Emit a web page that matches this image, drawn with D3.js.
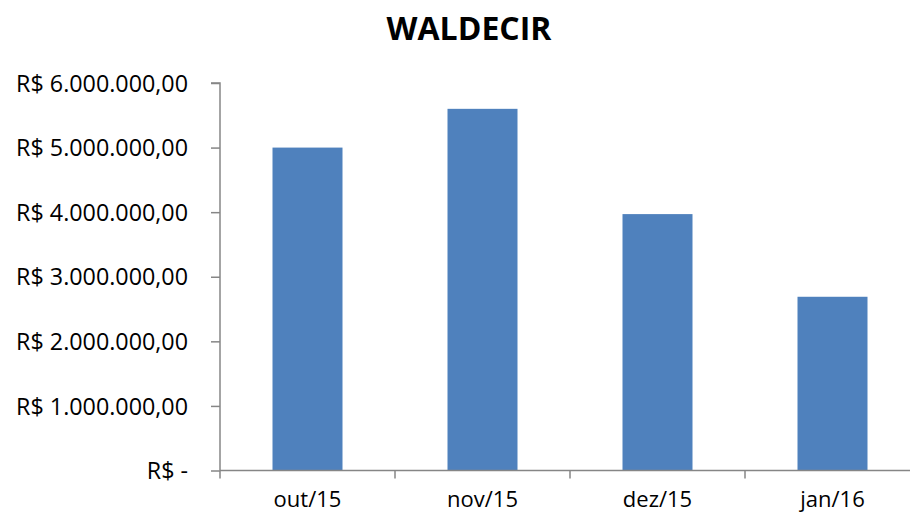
<!DOCTYPE html>
<html><head><meta charset="utf-8">
<script src="https://cdn.jsdelivr.net/npm/d3@7"></script>
<style>body{margin:0;background:#fff;} svg{display:block;}</style>
</head><body>
<script>
const categories = ["out/15", "nov/15", "dez/15", "jan/16"];
const values = [5000000, 5600000, 3970000, 2690000];
const yTicks = [0, 1000000, 2000000, 3000000, 4000000, 5000000, 6000000];
const title = "WALDECIR";

const W = 910, H = 515;
const font = "'Open Sans', sans-serif";
const svg = d3.select("body").append("svg").attr("width", W).attr("height", H);

const x = d3.scaleBand().domain(categories).range([220, 920]).paddingInner(0.6).paddingOuter(0.3);
const y = d3.scaleLinear().domain([0, 6000000]).range([470.5, 83]);

function fmt(v) {
  if (v === 0) return "R$ -";
  const s = Math.round(v).toString().replace(/\B(?=(\d{3})+(?!\d))/g, ".");
  return "R$ " + s + ",00";
}

svg.append("text").attr("x", 469).attr("y", 40).attr("text-anchor", "middle")
  .attr("font-family", font).attr("font-weight", "bold").attr("font-size", 32)
  .attr("fill", "#000").text(title);

svg.selectAll("rect.bar").data(values).join("rect").attr("class", "bar")
  .attr("x", (d, i) => x(categories[i])).attr("width", x.bandwidth())
  .attr("y", d => y(d)).attr("height", d => y(0) - y(d))
  .attr("fill", "#4F81BD");

const axisColor = "#868686";
const yAxis = svg.append("g").attr("transform", "translate(220,0)")
  .call(d3.axisLeft(y).tickValues(yTicks).tickSize(9).tickPadding(23).tickFormat(fmt));
yAxis.select(".domain").attr("stroke", axisColor).attr("stroke-width", 1.5).attr("d", "M-9,83H0V470.5");
yAxis.selectAll(".tick line").attr("stroke", axisColor).attr("stroke-width", 1.5);
yAxis.selectAll(".tick text").attr("font-family", font).attr("font-size", 23.3).attr("fill", "#000").attr("dy", "0.35em");

const xAxis = svg.append("g").attr("transform", "translate(0,470.5)")
  .call(d3.axisBottom(x).tickSize(0).tickPadding(21));
xAxis.select(".domain").attr("stroke", axisColor).attr("stroke-width", 1.5).attr("d", "M220,0H920");
xAxis.selectAll(".tick text").attr("font-family", font).attr("font-size", 22).attr("fill", "#000");
const bounds = [0, 1, 2, 3].map(i => 220 + i * x.step());
xAxis.selectAll("line.bnd").data(bounds).join("line").attr("class", "bnd")
  .attr("x1", d => d).attr("x2", d => d).attr("y1", 0).attr("y2", 8)
  .attr("stroke", axisColor).attr("stroke-width", 1.5);
</script>
</body></html>
